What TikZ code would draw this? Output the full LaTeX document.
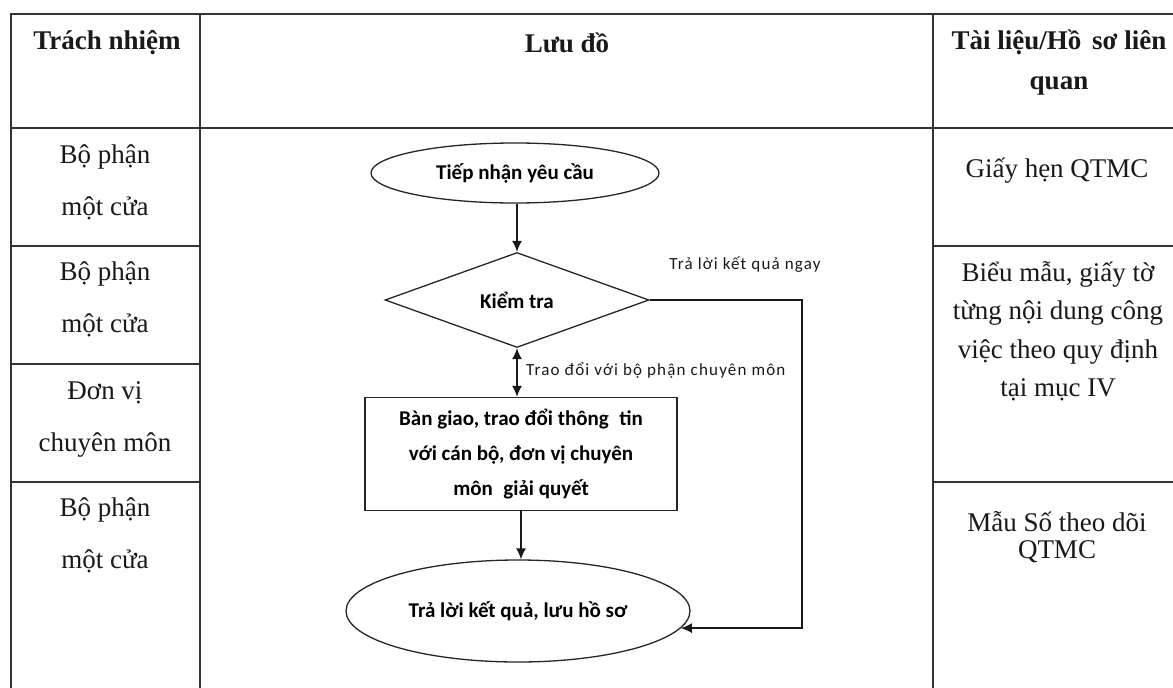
\documentclass[tikz,border=0pt]{standalone}
\usepackage{fontspec}
\setmainfont{Liberation Serif}
\newfontfamily\flowfont{Carlito}
\newfontfamily\flowsp[LetterSpace=7]{Carlito}
\usetikzlibrary{shapes.geometric,arrows.meta}
\begin{document}
\begin{tikzpicture}[x=1pt,y=-1pt,
  grid/.style={draw=black!80,line width=2pt},
  cell/.style={align=center,text=black!90,inner sep=0pt},
  hdr/.style={cell,font=\fontsize{27}{40}\selectfont\bfseries},
  flowline/.style={draw=black!90,line width=1.3pt},
  arr/.style={flowline,-{Latex[length=11pt,width=10pt]}},
  darr/.style={flowline,{Latex[length=11pt,width=10pt]}-{Latex[length=11pt,width=10pt]}},
  term/.style={ellipse,draw=black!85,line width=1.3pt,inner sep=0pt,align=center,font=\flowfont\fontsize{21}{35}\selectfont\bfseries},
  decis/.style={diamond,draw=black!85,line width=1.3pt,inner sep=0pt,font=\flowfont\fontsize{21}{35}\selectfont\bfseries},
  proc/.style={rectangle,draw=black!85,line width=1.3pt,inner sep=0pt,align=center,font=\flowfont\fontsize{21}{35}\selectfont\bfseries},
  lbl/.style={inner sep=0pt,font=\flowsp\fontsize{17}{20}\selectfont,text=black!90}
]
\useasboundingbox (0,0) rectangle (1173,688);
\fill[white] (0,0) rectangle (1173,688);

% table grid
\draw[grid] (11,690) -- (11,14) -- (1175,14);
\draw[grid] (200,14) -- (200,690);
\draw[grid] (933,14) -- (933,690);
\draw[grid] (11,128) -- (1175,128);
\draw[grid] (11,246) -- (200,246);
\draw[grid] (11,364) -- (200,364);
\draw[grid] (11,482) -- (200,482);
\draw[grid] (933,246) -- (1175,246);
\draw[grid] (933,482) -- (1175,482);

% header
\node[hdr] (h1) at (107,43) {Trách nhiệm};
\node[hdr] (h2) at (567,43) {Lưu đồ};
\node[hdr] (h3) at (1059,63) {Tài liệu/Hồ\hspace{0.4em}sơ liên\\quan};

% left column
\begin{scope}[every node/.style={cell,font=\fontsize{27}{52}\selectfont}]
\node (r1) at (105,182) {Bộ phận\\một cửa};
\node (r2) at (105,299) {Bộ phận\\một cửa};
\node (r3) at (105,419) {Đơn vị\\chuyên môn};
\node (r4) at (105,535) {Bộ phận\\một cửa};
\end{scope}

% right column
\node[cell,font=\fontsize{27}{38.5}\selectfont] (d1) at (1057,171) {Giấy hẹn QTMC};
\node[cell,font=\fontsize{27}{38.5}\selectfont] (d2) at (1058,331) {Biểu mẫu, giấy tờ\\từng nội dung công\\việc theo quy định\\tại mục IV};
\node[cell,font=\fontsize{27}{27}\selectfont] (d3) at (1057,537) {Mẫu Số theo dõi\\QTMC};

% flowchart
\node[term,minimum width=288pt,minimum height=60pt] (start) at (515,173) {Tiếp nhận yêu cầu};
\node[decis,minimum width=264pt,minimum height=95pt] (check) at (517,300) {Kiểm tra};
\node[proc,minimum width=312pt,minimum height=113pt] (work) at (521,454) {Bàn giao, trao đổi thông\hspace{0.5em}tin\\với cán bộ, đơn vị chuyên\\môn\hspace{0.5em}giải quyết};
\node[term,minimum width=344pt,minimum height=102pt] (end) at (518,611) {Trả lời kết quả, lưu hồ sơ};

\coordinate (cr) at (802,300);
\coordinate (ee) at (end.-6);

\draw[arr] (start.south -| check.north) -- (check.north);
\draw[darr] (check.south) -- (check.south |- work.north);
\draw[arr] (work.south) -- (work.south |- end.north);
\draw[arr] (check.east) -- (cr) |- (ee);

\node[lbl] (l1) at (745,265) {Trả lời kết quả ngay};
\node[lbl,anchor=west] (l2) at (526,370) {Trao đổi với bộ phận chuyên môn};
\end{tikzpicture}
\end{document}
